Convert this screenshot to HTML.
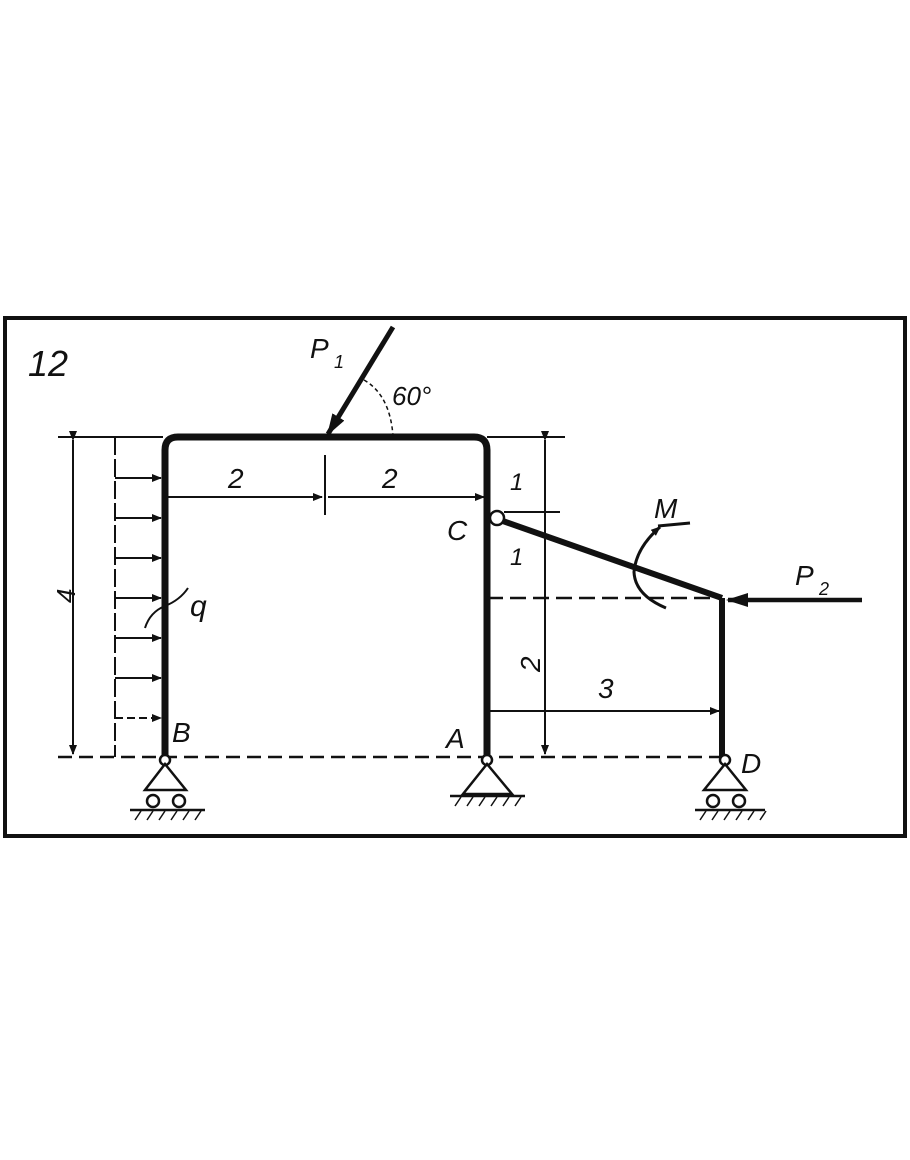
<!DOCTYPE html>
<html><head><meta charset="utf-8"><style>
html,body{margin:0;padding:0;background:#fff;}
svg text{font-family:"Liberation Sans",sans-serif;font-style:italic;fill:#111;}
</style></head><body>
<svg width="910" height="1155" viewBox="0 0 910 1155" xmlns="http://www.w3.org/2000/svg">
<defs>
<marker id="ah" markerWidth="10" markerHeight="8" refX="9" refY="4" orient="auto" markerUnits="userSpaceOnUse">
<path d="M0,0 L10,4 L0,8 z" fill="#111"/></marker>
<marker id="big" markerWidth="22" markerHeight="14" refX="20" refY="7" orient="auto" markerUnits="userSpaceOnUse">
<path d="M0,0 L22,7 L0,14 z" fill="#111"/></marker>
</defs>
<g stroke="#111" fill="none">
<!-- frame -->
<rect x="5" y="318" width="900" height="518" stroke-width="4"/>
<!-- main frame -->
<path d="M165,757 L165,450 Q165,437 178,437 L474,437 Q487,437 487,450 L487,757" stroke-width="7"/>
<!-- extension lines -->
<line x1="58" y1="437" x2="163" y2="437" stroke-width="2"/>
<line x1="487" y1="437" x2="565" y2="437" stroke-width="2"/>
<line x1="58" y1="757" x2="720" y2="757" stroke-width="2.5" stroke-dasharray="14,7"/>
<!-- dim 4 -->
<line x1="73" y1="440" x2="73" y2="754" stroke-width="2" marker-start="url(#ah)" marker-end="url(#ah)"/>
<!-- distributed load -->
<line x1="115" y1="437" x2="115" y2="757" stroke-width="2" stroke-dasharray="18,4"/>
<g stroke-width="2">
<line x1="115" y1="478" x2="161" y2="478" marker-end="url(#ah)"/>
<line x1="115" y1="518" x2="161" y2="518" marker-end="url(#ah)"/>
<line x1="115" y1="558" x2="161" y2="558" marker-end="url(#ah)"/>
<line x1="115" y1="598" x2="161" y2="598" marker-end="url(#ah)"/>
<line x1="115" y1="638" x2="161" y2="638" marker-end="url(#ah)"/>
<line x1="115" y1="678" x2="161" y2="678" marker-end="url(#ah)"/>
<line x1="115" y1="718" x2="161" y2="718" stroke-dasharray="8,4" marker-end="url(#ah)"/>
</g>
<path d="M145,628 Q150,612 165,606 Q180,600 188,588" stroke-width="2"/>
<!-- dim 2 2 -->
<line x1="168" y1="497" x2="322" y2="497" stroke-width="2" marker-end="url(#ah)"/>
<line x1="328" y1="497" x2="484" y2="497" stroke-width="2" marker-end="url(#ah)"/>
<line x1="325" y1="455" x2="325" y2="515" stroke-width="2"/>
<!-- P1 -->
<line x1="393" y1="327" x2="328" y2="434" stroke-width="5" marker-end="url(#big)"/>
<path d="M364,380 Q390,395 393,436" stroke-width="1.5" stroke-dasharray="4,3"/>
<!-- C and inclined beam -->
<line x1="500" y1="520" x2="722" y2="598" stroke-width="6"/>
<path d="M722,598 L722,757" stroke-width="6"/>
<circle cx="497" cy="518" r="7" fill="#fff" stroke-width="2.5"/>
<line x1="504" y1="512" x2="560" y2="512" stroke-width="2"/>
<line x1="487" y1="598" x2="720" y2="598" stroke-width="2.5" stroke-dasharray="16,7"/>
<!-- vertical dim right -->
<line x1="545" y1="440" x2="545" y2="754" stroke-width="2" marker-start="url(#ah)" marker-end="url(#ah)"/>
<!-- dim 3 -->
<line x1="490" y1="711" x2="719" y2="711" stroke-width="2" marker-end="url(#ah)"/>
<!-- P2 -->
<line x1="862" y1="600" x2="728" y2="600" stroke-width="4.5" marker-end="url(#big)"/>
<!-- M -->
<path d="M666,608 Q635,595 634,572 Q636,548 660,527" stroke-width="3" marker-end="url(#ah)"/>
<line x1="658" y1="526" x2="690" y2="523" stroke-width="3"/>
<!-- supports -->
<g stroke-width="2.5">
<circle cx="165" cy="760" r="5" fill="#fff"/>
<path d="M165,764 L145,790 L186,790 z"/>
<circle cx="153" cy="801" r="6"/><circle cx="179" cy="801" r="6"/>
<line x1="130" y1="810" x2="205" y2="810"/>
<circle cx="487" cy="760" r="5" fill="#fff"/>
<path d="M487,764 L463,794 L512,794 z"/>
<line x1="450" y1="796" x2="525" y2="796"/>
<circle cx="725" cy="760" r="5" fill="#fff"/>
<path d="M725,764 L704,790 L746,790 z"/>
<circle cx="713" cy="801" r="6"/><circle cx="739" cy="801" r="6"/>
<line x1="695" y1="810" x2="765" y2="810"/>
</g>
<g stroke-width="1.5">
<path d="M135,820 l6,-9 M147,820 l6,-9 M159,820 l6,-9 M171,820 l6,-9 M183,820 l6,-9 M195,820 l6,-9"/>
<path d="M455,806 l6,-9 M467,806 l6,-9 M479,806 l6,-9 M491,806 l6,-9 M503,806 l6,-9 M515,806 l6,-9"/>
<path d="M700,820 l6,-9 M712,820 l6,-9 M724,820 l6,-9 M736,820 l6,-9 M748,820 l6,-9 M760,820 l6,-9"/>
</g>
</g>
<text x="28" y="376" font-size="36">12</text>
<text x="310" y="358" font-size="28">P</text><text x="334" y="368" font-size="18">1</text>
<text x="392" y="405" font-size="26">60°</text>
<text x="228" y="488" font-size="28">2</text>
<text x="382" y="488" font-size="28">2</text>
<text x="66" y="612" font-size="26" transform="rotate(-90 66 603)">4</text>
<text x="190" y="616" font-size="30">q</text>
<text x="172" y="742" font-size="28">B</text>
<text x="446" y="748" font-size="28">A</text>
<text x="447" y="540" font-size="28">C</text>
<text x="741" y="773" font-size="28">D</text>
<text x="510" y="490" font-size="24">1</text>
<text x="510" y="565" font-size="24">1</text>
<text x="538" y="690" font-size="28" transform="rotate(-90 530 680)">2</text>
<text x="598" y="698" font-size="28">3</text>
<text x="654" y="518" font-size="28">M</text>
<text x="795" y="585" font-size="28">P</text><text x="819" y="595" font-size="18">2</text>
</svg>
</body></html>
